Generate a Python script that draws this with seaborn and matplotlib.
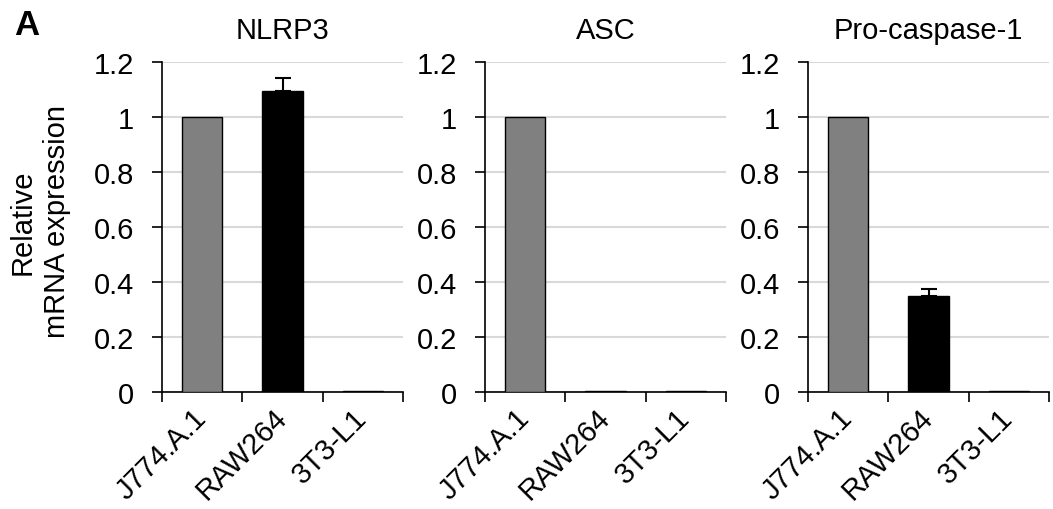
import matplotlib
matplotlib.use("Agg")
import matplotlib.pyplot as plt
import seaborn as sns
import pandas as pd
import numpy as np

# ---- data ----
cells = ["J774.A.1", "RAW264", "3T3-L1"]
genes = ["NLRP3", "ASC", "Pro-caspase-1"]
nlrp3_vals = [1.0, 1.095, 0.003]
nlrp3_err = [0.0, 0.047, 0.0]
asc_vals = [1.0, 0.002, 0.002]
asc_err = [0.0, 0.0, 0.0]
procasp_vals = [1.0, 0.35, 0.004]
procasp_err = [0.0, 0.025, 0.0]
yticks = [0, 0.2, 0.4, 0.6, 0.8, 1.0, 1.2]
ytick_labels = ["0", "0.2", "0.4", "0.6", "0.8", "1", "1.2"]

sns.set_theme(style="white")
plt.rcParams["font.family"] = ["Liberation Sans", "DejaVu Sans"]
for k in ["text.color", "axes.labelcolor", "xtick.color", "ytick.color"]:
    plt.rcParams[k] = "black"
FS = 21

fig = plt.figure(figsize=(10.53, 5.10), dpi=100)
palette = {"J774.A.1": "#808080", "RAW264": "#000000", "3T3-L1": "#000000"}

lefts = [162, 485, 808]
W, H = 1053, 510
for i, (gene, vals, errs) in enumerate(zip(genes,
                                          [nlrp3_vals, asc_vals, procasp_vals],
                                          [nlrp3_err, asc_err, procasp_err])):
    ax = fig.add_axes([lefts[i] / W, 1 - 393 / H, 241 / W, 330 / H])
    df = pd.DataFrame({"cell": cells, "value": vals})
    sns.barplot(data=df, x="cell", y="value", hue="cell", palette=palette,
                width=0.5, edgecolor="black", linewidth=1.0, legend=False,
                ax=ax, zorder=3)
    xs = np.arange(len(cells))
    for x, v, e in zip(xs, vals, errs):
        if e > 0:
            ax.errorbar(x, v, yerr=[[0], [e]], fmt="none", ecolor="black",
                        elinewidth=1.5, capsize=6, capthick=1.5, zorder=4)
    ax.set_xlim(-0.5, 2.5)
    ax.set_ylim(0, 1.2)
    ax.set_yticks(yticks)
    ax.set_yticklabels(ytick_labels, fontsize=FS)
    ax.yaxis.grid(True, color="#d9d9d9", linewidth=1.5, zorder=0)
    ax.set_axisbelow(True)
    for s in ["top", "right"]:
        ax.spines[s].set_visible(False)
    for s in ["left", "bottom"]:
        ax.spines[s].set_color("black")
        ax.spines[s].set_linewidth(1.2)
    ax.tick_params(axis="y", which="major", direction="out", length=7,
                   width=1.2, color="black", pad=13, labelsize=FS, left=True)
    ax.set_xticks(xs)
    ax.set_xticklabels(cells, fontsize=FS, rotation=45, ha="right",
                       rotation_mode="anchor", va="center")
    ax.tick_params(axis="x", which="major", length=0, pad=15, labelsize=FS)
    ax.set_xticks([-0.5, 0.5, 1.5, 2.5], minor=True)
    ax.tick_params(axis="x", which="minor", direction="out", length=7,
                   width=1.2, color="black", bottom=True)
    ax.set_xlabel("")
    ax.set_ylabel("")
    ax.set_title(gene, fontsize=FS, pad=17)

fig.text(40 / W, 1 - 222 / H, "Relative\nmRNA expression", fontsize=FS,
         rotation=90, ha="center", va="center", linespacing=1.3,
         multialignment="center")

fig.text(14 / W, 1 - 35 / H, "A", fontsize=25, fontweight="bold",
         va="baseline", ha="left")

fig.savefig("out.png", dpi=100, facecolor="white")
